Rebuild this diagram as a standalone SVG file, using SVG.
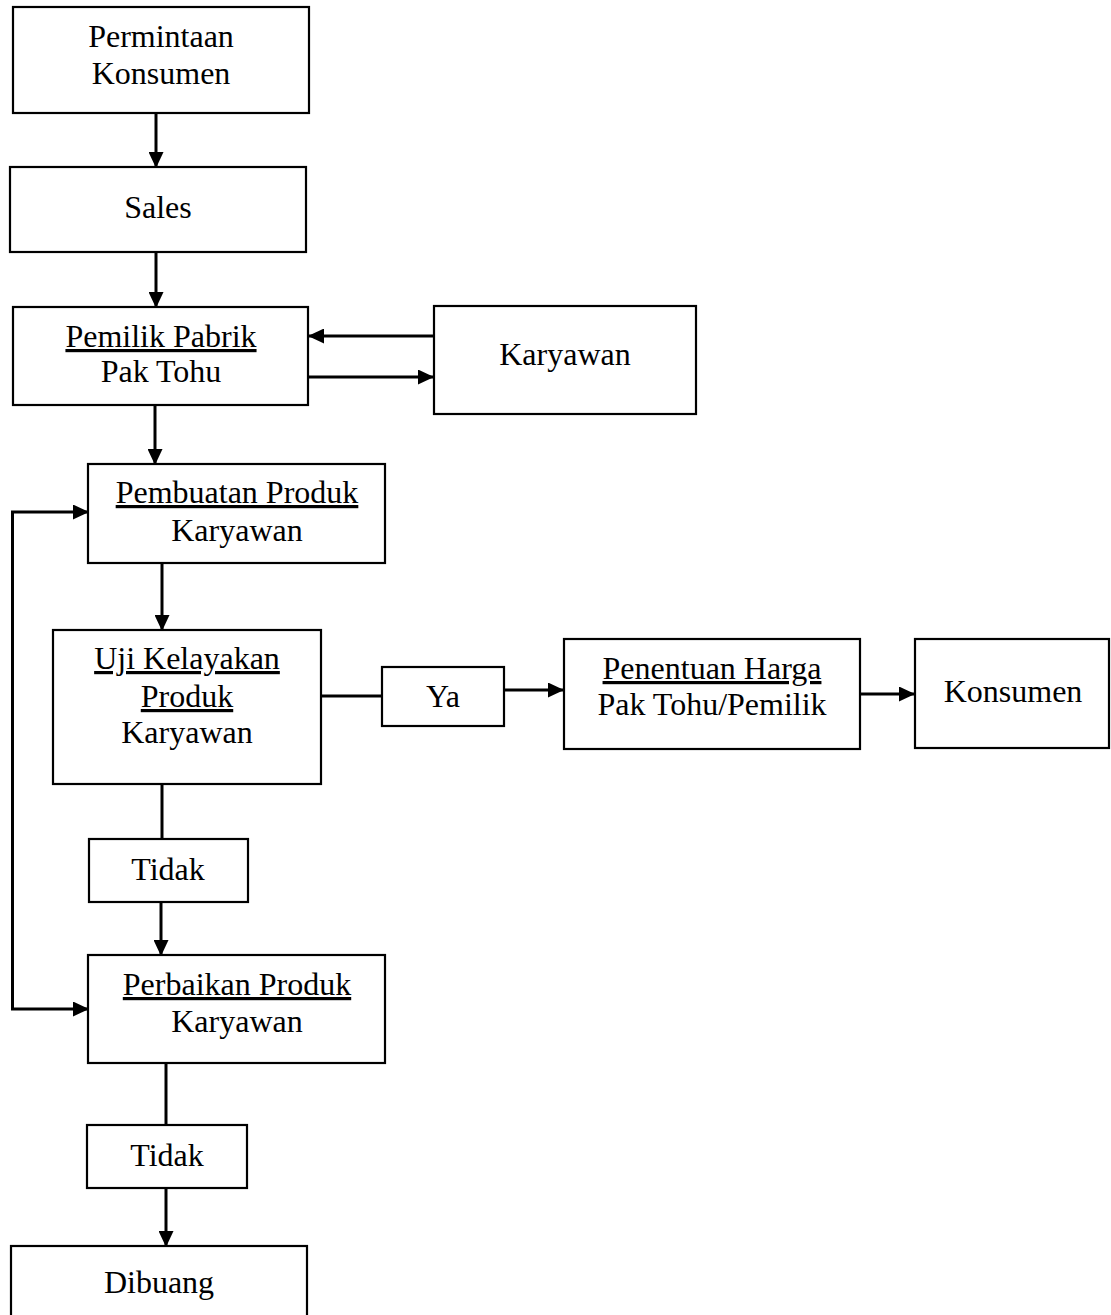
<svg xmlns="http://www.w3.org/2000/svg" width="1111" height="1315" viewBox="0 0 1111 1315">
<style>
rect.box{fill:#fff;stroke:#000;stroke-width:2.2}
text{font-family:"Liberation Serif","Times New Roman",serif;font-size:32px;fill:#000;text-anchor:middle}
.u{text-decoration:underline}
.c{fill:none;stroke:#000;stroke-width:3}
.a{marker-end:url(#ah)}
</style>
<defs>
<marker id="ah" viewBox="0 0 16 15" refX="15" refY="7.5" markerWidth="16" markerHeight="15" markerUnits="userSpaceOnUse" orient="auto-start-reverse">
<path d="M0,0 L16,7.5 L0,15 z" fill="#000"/>
</marker>
</defs>
<rect width="1111" height="1315" fill="#fff"/>
<g id="connectors">
<line class="c a" x1="156" y1="113" x2="156" y2="167"/>
<line class="c a" x1="156" y1="252" x2="156" y2="307"/>
<line class="c a" x1="434" y1="336" x2="309" y2="336"/>
<line class="c a" x1="308" y1="377" x2="433" y2="377"/>
<line class="c a" x1="155" y1="405" x2="155" y2="464"/>
<line class="c a" x1="162" y1="563" x2="162" y2="630"/>
<line class="c" x1="321" y1="696" x2="382" y2="696"/>
<line class="c a" x1="504" y1="690" x2="563" y2="690"/>
<line class="c a" x1="860" y1="694" x2="914" y2="694"/>
<line class="c" x1="162" y1="784" x2="162" y2="839"/>
<line class="c a" x1="161" y1="902" x2="161" y2="955"/>
<line class="c" x1="166" y1="1063" x2="166" y2="1125"/>
<line class="c a" x1="166" y1="1188" x2="166" y2="1246"/>
<path class="c" d="M88,512 L12.5,512 L12.5,1009 L88,1009" marker-start="url(#ah)" marker-end="url(#ah)"/>
</g>
<g id="permintaan">
<rect class="box" x="13" y="7" width="296" height="106"/>
<text x="161" y="47">Permintaan</text>
<text x="161" y="84">Konsumen</text>
</g>
<g id="sales">
<rect class="box" x="10" y="167" width="296" height="85"/>
<text x="158" y="218">Sales</text>
</g>
<g id="pemilik">
<rect class="box" x="13" y="307" width="295" height="98"/>
<text class="u" x="161" y="347">Pemilik Pabrik</text>
<text x="161" y="382">Pak Tohu</text>
</g>
<g id="karyawan">
<rect class="box" x="434" y="306" width="262" height="108"/>
<text x="565" y="365">Karyawan</text>
</g>
<g id="pembuatan">
<rect class="box" x="88" y="464" width="297" height="99"/>
<text class="u" x="237" y="503">Pembuatan Produk</text>
<text x="237" y="541">Karyawan</text>
</g>
<g id="uji">
<rect class="box" x="53" y="630" width="268" height="154"/>
<text class="u" x="187" y="669">Uji Kelayakan</text>
<text class="u" x="187" y="707">Produk</text>
<text x="187" y="743">Karyawan</text>
</g>
<g id="ya">
<rect class="box" x="382" y="667" width="122" height="59"/>
<text x="443" y="707">Ya</text>
</g>
<g id="penentuan">
<rect class="box" x="564" y="639" width="296" height="110"/>
<text class="u" x="712" y="679">Penentuan Harga</text>
<text x="712" y="715">Pak Tohu/Pemilik</text>
</g>
<g id="konsumen">
<rect class="box" x="915" y="639" width="194" height="109"/>
<text x="1013" y="702">Konsumen</text>
</g>
<g id="tidak1">
<rect class="box" x="89" y="839" width="159" height="63"/>
<text x="168" y="880">Tidak</text>
</g>
<g id="perbaikan">
<rect class="box" x="88" y="955" width="297" height="108"/>
<text class="u" x="237" y="995">Perbaikan Produk</text>
<text x="237" y="1032">Karyawan</text>
</g>
<g id="tidak2">
<rect class="box" x="87" y="1125" width="160" height="63"/>
<text x="167" y="1166">Tidak</text>
</g>
<g id="dibuang">
<rect class="box" x="11" y="1246" width="296" height="100"/>
<text x="159" y="1293">Dibuang</text>
</g>
</svg>
